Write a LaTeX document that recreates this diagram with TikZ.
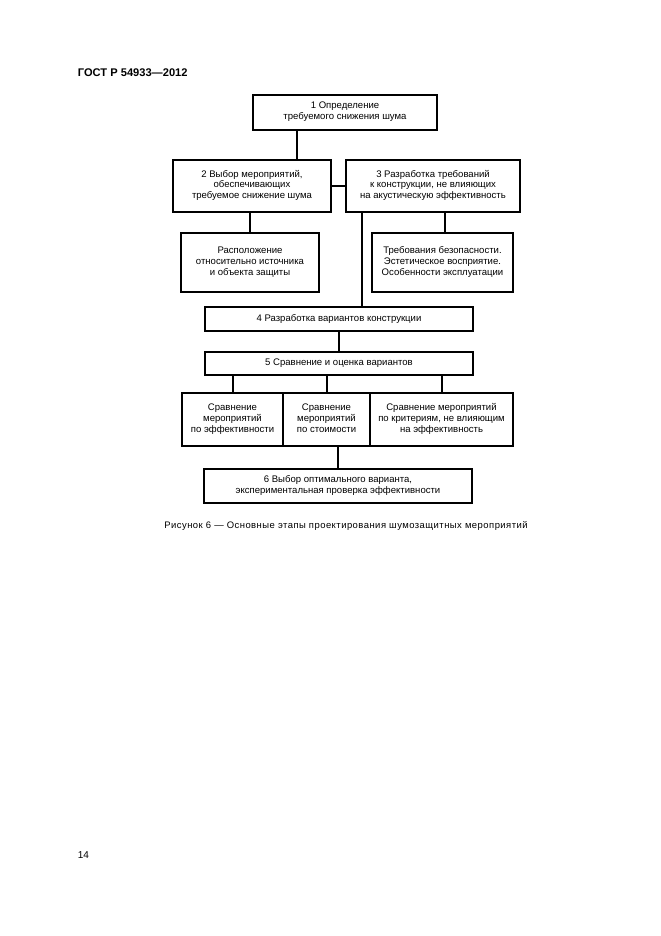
\documentclass[tikz,border=0pt]{standalone}
\usepackage{fontspec}
\setmainfont{Liberation Sans}
\newfontfamily\capfont[LetterSpace=5]{Liberation Sans}
\begin{document}
\begin{tikzpicture}[x=0.9pt,y=-0.9pt,
  box/.style={draw, line width=2.2pt, align=center, inner sep=1pt,
    font=\fontsize{8.6}{9.8}\selectfont,
    execute at begin node=\strut, execute at end node=\strut},
  conn/.style={line width=1.8pt}]
\useasboundingbox[fill=white] (0,0) rectangle (661,936);
\node[anchor=west, font=\bfseries\fontsize{10}{12}\selectfont] (hdr) at (74,73) {ГОСТ Р 54933—2012};
\node[box, minimum width=165.6pt, minimum height=31.5pt] (b1) at (345,112.5) {1 Определение\\требуемого снижения шума};
\node[box, minimum width=142.2pt, minimum height=46.8pt] (b2) at (252,186) {2 Выбор мероприятий,\\обеспечивающих\\требуемое снижение шума};
\node[box, minimum width=156.6pt, minimum height=46.8pt] (b3) at (433,186) {3 Разработка требований\\к конструкции, не влияющих\\на акустическую эффективность};
\node[box, minimum width=124.2pt, minimum height=53.1pt] (b2a) at (250,262.5) {Расположение\\относительно источника\\и объекта защиты};
\node[box, minimum width=126.9pt, minimum height=53.1pt] (b3a) at (442.5,262.5) {Требования безопасности.\\Эстетическое восприятие.\\Особенности эксплуатации};
\node[box, minimum width=241.2pt, minimum height=21.6pt] (b4) at (339,319) {4 Разработка вариантов конструкции};
\node[box, minimum width=241.2pt, minimum height=20.7pt] (b5) at (339,363.5) {5 Сравнение и оценка вариантов};
\node[box, minimum width=90.9pt, minimum height=47.7pt] (c1) at (232.5,419.5) {Сравнение\\мероприятий\\по эффективности};
\node[box, minimum width=78.3pt, minimum height=47.7pt] (c2) at (326.5,419.5) {Сравнение\\мероприятий\\по стоимости};
\node[box, minimum width=128.7pt, minimum height=47.7pt] (c3) at (441.5,419.5) {Сравнение мероприятий\\по критериям, не влияющим\\на эффективность};
\node[box, minimum width=241.2pt, minimum height=30.6pt] (b6) at (338,486) {6 Выбор оптимального варианта,\\экспериментальная проверка эффективности};
\node[font=\capfont\fontsize{8.5}{10}\selectfont] (cap) at (346,526) {Рисунок 6 — Основные этапы проектирования шумозащитных мероприятий};
\node[anchor=west, font=\fontsize{9}{11}\selectfont] (pg) at (74,855) {14};
\coordinate (x1) at (297,0);
\coordinate (x2) at (362,0);
\coordinate (x3) at (445,0);
\draw[conn] (b1.south -| x1) -- (b2.north -| x1);
\draw[conn] (b2.east) -- (b3.west);
\draw[conn] (b2.south -| b2a.north) -- (b2a.north);
\draw[conn] (b3.south -| x3) -- (b3a.north -| x3);
\draw[conn] (b3.south -| x2) -- (b4.north -| x2);
\draw[conn] (b4.south) -- (b5.north);
\draw[conn] (b5.south -| c1.north) -- (c1.north);
\draw[conn] (b5.south -| c2.north) -- (c2.north);
\draw[conn] (b5.south -| c3.north) -- (c3.north);
\draw[conn] (c2.south -| b6.north) -- (b6.north);
\end{tikzpicture}
\end{document}
